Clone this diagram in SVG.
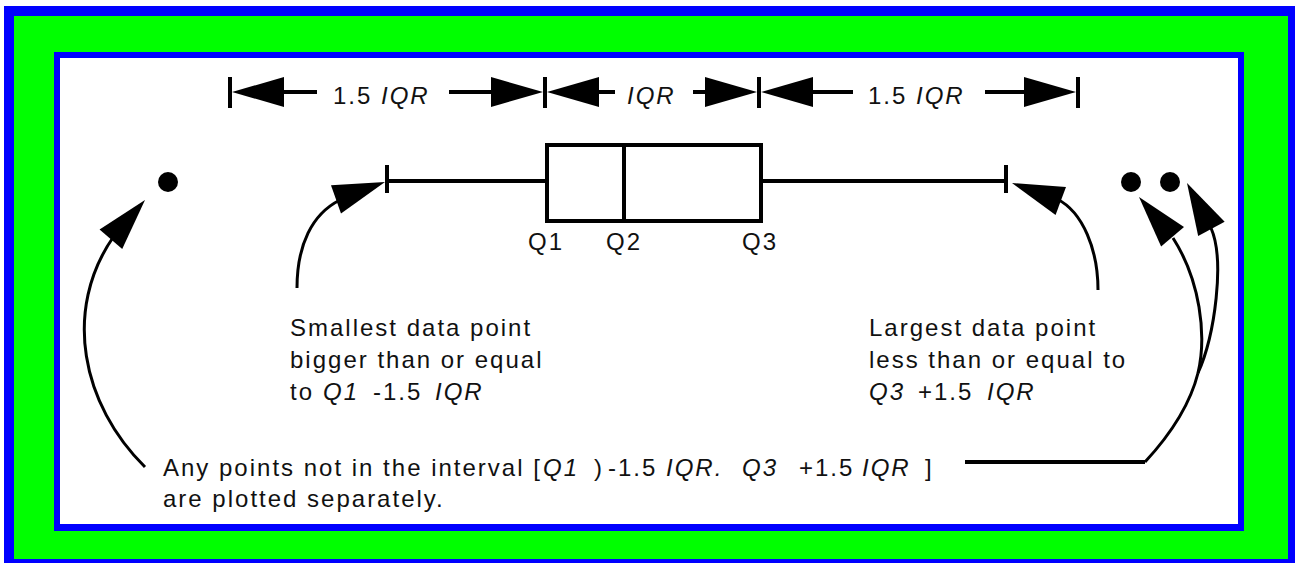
<svg xmlns="http://www.w3.org/2000/svg" width="1295" height="563" viewBox="0 0 1295 563">
  <style>
    .txt { font-family: "Liberation Sans", Arial, sans-serif; font-size: 24px; letter-spacing: 2px; fill: #111; }
    .it { font-style: italic; }
    .dim { stroke: #000; stroke-width: 4; fill: none; }
    .tick { stroke: #000; stroke-width: 4; }
    .curve { stroke: #000; stroke-width: 3; fill: none; }
    .head { fill: #000; }
  </style>
  <defs>
    <!-- filled arrowhead, tip at origin pointing along +x -->
    <polygon id="head" points="0,0 -52,-15 -52,15"/>
  </defs>

  <!-- frame -->
  <g id="frame">
    <rect x="4" y="6" width="1291" height="557" fill="#0000FF"/>
    <rect x="14" y="16" width="1274" height="543" fill="#00FF00"/>
    <rect x="54" y="52" width="1190" height="479" fill="#0000FF"/>
    <rect x="60" y="58" width="1178" height="466" fill="#FFFFFF"/>
  </g>

  <!-- dimension bar above the box -->
  <g id="dimensions">
    <line class="tick" x1="230" y1="77" x2="230" y2="108"/>
    <line class="tick" x1="545" y1="77" x2="545" y2="108"/>
    <line class="tick" x1="759" y1="77" x2="759" y2="108"/>
    <line class="tick" x1="1078" y1="77" x2="1078" y2="108"/>
    <line class="dim" x1="280" y1="92" x2="317" y2="92"/>
    <line class="dim" x1="449" y1="92" x2="495" y2="92"/>
    <line class="dim" x1="595" y1="92" x2="615" y2="92"/>
    <line class="dim" x1="693" y1="92" x2="709" y2="92"/>
    <line class="dim" x1="810" y1="92" x2="853" y2="92"/>
    <line class="dim" x1="985" y1="92" x2="1027" y2="92"/>
    <use href="#head" class="head" transform="translate(232,92) rotate(180)"/>
    <use href="#head" class="head" transform="translate(543,92)"/>
    <use href="#head" class="head" transform="translate(547,92) rotate(180)"/>
    <use href="#head" class="head" transform="translate(757,92)"/>
    <use href="#head" class="head" transform="translate(761,92) rotate(180)"/>
    <use href="#head" class="head" transform="translate(1076,92)"/>
    <text class="txt" x="333" y="104">1.5 <tspan class="it">IQR</tspan></text>
    <text class="txt it" x="627" y="104">IQR</text>
    <text class="txt" x="868" y="104">1.5 <tspan class="it">IQR</tspan></text>
  </g>

  <!-- box plot -->
  <g id="boxplot">
    <line class="tick" x1="387" y1="181" x2="545" y2="181"/>
    <line class="tick" x1="763" y1="181" x2="1006" y2="181"/>
    <line class="tick" x1="387" y1="165" x2="387" y2="193"/>
    <line class="tick" x1="1006" y1="165" x2="1006" y2="193"/>
    <rect x="547" y="145" width="214" height="76" fill="#fff" stroke="#000" stroke-width="4"/>
    <line class="tick" x1="624" y1="145" x2="624" y2="221"/>
    <text class="txt" x="528" y="250">Q1</text>
    <text class="txt" x="606" y="250">Q2</text>
    <text class="txt" x="742" y="250">Q3</text>
  </g>

  <!-- outlier points -->
  <g id="outliers">
    <circle cx="168" cy="182" r="10" fill="#000"/>
    <circle cx="1131" cy="182" r="10" fill="#000"/>
    <circle cx="1170" cy="182" r="10" fill="#000"/>
  </g>

  <!-- labels -->
  <g id="label-lower">
    <text class="txt" x="290" y="336">Smallest data point</text>
    <text class="txt" x="290" y="368">bigger than or equal</text>
    <text class="txt" x="290" y="400">to <tspan class="it" x="323">Q1</tspan><tspan x="373">-1.5</tspan><tspan class="it" x="435">IQR</tspan></text>
  </g>
  <g id="label-upper">
    <text class="txt" x="869" y="336">Largest data point</text>
    <text class="txt" x="869" y="368">less than or equal to</text>
    <text class="txt" x="869" y="400"><tspan class="it">Q3</tspan><tspan x="918">+1.5</tspan><tspan class="it" x="987">IQR</tspan></text>
  </g>
  <g id="label-outliers">
    <text class="txt" x="163" y="476">Any points not in the interval [<tspan class="it" x="543">Q1</tspan><tspan x="594">)</tspan><tspan x="608">-1.5</tspan><tspan class="it" x="666">IQR.</tspan><tspan class="it" x="742">Q3</tspan><tspan x="799">+1.5</tspan><tspan class="it" x="862">IQR</tspan><tspan x="925">]</tspan></text>
    <text class="txt" x="163" y="507">are plotted separately.</text>
  </g>

  <!-- connectors -->
  <g id="connectors">
    <path class="curve" d="M297,288 C297,245 312,214 340,200"/>
    <use href="#head" class="head" transform="translate(385,182) rotate(-19.5)"/>

    <path class="curve" d="M145,467 C82,405 62,310 114,236"/>
    <use href="#head" class="head" transform="translate(145,200) rotate(-49)"/>

    <path class="curve" d="M1098,290 C1098,250 1083,212 1057,199"/>
    <use href="#head" class="head" transform="translate(1012,183) rotate(-159.7)"/>

    <line x1="965" y1="462" x2="1145" y2="462" stroke="#000" stroke-width="4"/>
    <path class="curve" d="M1145,462 C1170,435 1190,405 1198,373"/>
    <path class="curve" d="M1198,373 C1207,335 1200,280 1173,238"/>
    <use href="#head" class="head" transform="translate(1139,197) rotate(-130.2)"/>
    <path class="curve" d="M1198,373 C1215,335 1225,260 1211,228"/>
    <use href="#head" class="head" transform="translate(1187,183) rotate(-118)"/>
  </g>
</svg>
